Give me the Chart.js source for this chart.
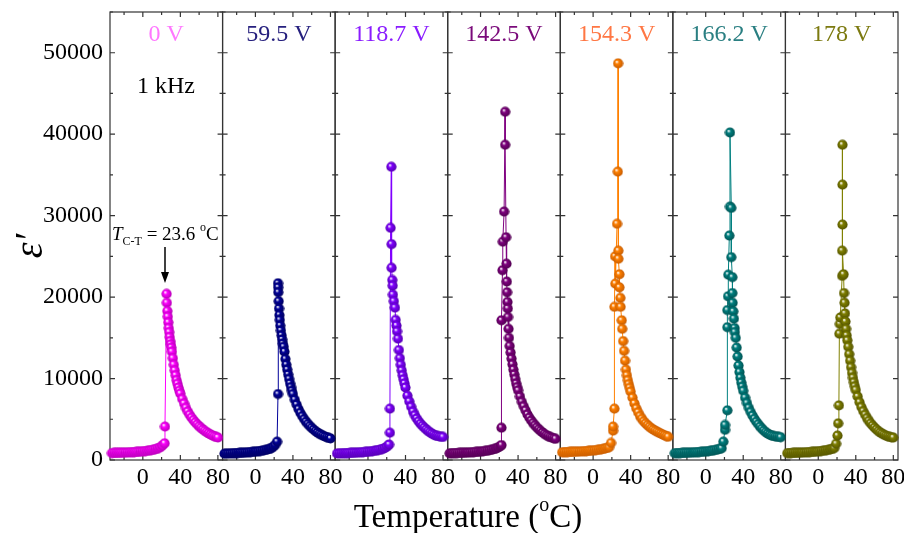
<!DOCTYPE html>
<html lang="en">
<head>
  <meta charset="UTF-8">
  <title>Dielectric constant vs temperature</title>
  <style>
    body {
      margin: 0;
      padding: 0;
      background: #fff;
    }
    #wrap {
      width: 904px;
      height: 533px;
    }
  </style>
</head>
<body>
  <div id="wrap">
    <canvas id="graph" width="904" height="533"></canvas>
  </div>

  <script src="https://cdn.jsdelivr.net/npm/chart.js"></script>
  <script>
    // panel labels and colours
    const voltages = ['0 V', '59.5 V', '118.7 V', '142.5 V', '154.3 V', '166.2 V', '178 V'];
    const colors = ['#ff00ff', '#000099', '#8000ff', '#800080', '#ff8000', '#008080', '#808000'];
    const darkColors = ['#b000b0', '#00005a', '#5000a8', '#4d004d', '#c05800', '#004f4f', '#505000'];
    const labelColors = ['#ff77ff', '#26207e', '#8a1cff', '#7a0a7a', '#ff7744', '#2a7f82', '#7c7a10'];

    const xTickValues = [0, 40, 80];
    const yTickValues = [0, 10000, 20000, 30000, 40000, 50000];

    // temperatures shared by the low-T and high-T parts of every run
    const lowTemps = [-33, -31, -29, -27, -25, -23, -21, -19, -17, -15, -13, -11, -9, -7, -5, -3, -1, 1, 3, 5, 7, 9, 11, 13, 15, 17];
    const tailTemps = [31, 32, 33, 34, 35, 36, 37, 38, 39, 40, 42, 44, 46, 48, 50, 52, 54, 56, 58, 60, 62, 64, 66, 68, 70, 72, 74, 76, 78, 80];

    // 0 V
    const low0 = [850, 860, 868, 876, 885, 893, 902, 912, 922, 933, 945, 958, 972, 988, 1005, 1025, 1047, 1072, 1100, 1132, 1168, 1210, 1258, 1315, 1385, 1470];
    const peakT0 = [19, 21, 23.2, 23.6, 25.3, 25.6, 26.1, 26.6, 27.1, 27.6, 28.1, 28.6, 29.2, 29.8, 30.4];
    const peakE0 = [1600, 1800, 2050, 4100, 20400, 19300, 18300, 17600, 16900, 16200, 15700, 15100, 14600, 14200, 13800];
    const tail0 = [13300, 12500, 11700, 11000, 10400, 9800, 9350, 8900, 8500, 8150, 7500, 6950, 6400, 5950, 5550, 5200, 4900, 4620, 4380, 4150, 3950, 3750, 3580, 3420, 3280, 3150, 3030, 2930, 2840, 2760];

    // 59.5 V
    const low1 = [780, 790, 800, 810, 820, 830, 842, 855, 868, 882, 897, 913, 930, 948, 968, 990, 1014, 1040, 1070, 1104, 1142, 1186, 1236, 1295, 1365, 1450];
    const peakT1 = [19, 21, 23.1, 24.1, 24.1, 24.3, 24.4, 24.8, 25.2, 25.6, 26, 26.5, 27.2, 27.9, 28.6, 29.4, 30.2];
    const peakE1 = [1620, 1850, 2250, 8100, 21700, 21200, 20600, 19500, 18600, 17800, 17200, 16500, 15900, 15300, 14800, 14300, 13900];
    const tail1 = [13300, 12400, 11700, 11100, 10500, 9950, 9400, 8950, 8500, 8100, 7400, 6800, 6250, 5780, 5380, 5020, 4700, 4420, 4170, 3950, 3740, 3550, 3380, 3230, 3100, 2990, 2890, 2800, 2720, 2650];

    // 118.7 V
    const low2 = [800, 808, 816, 825, 834, 843, 853, 864, 875, 887, 900, 914, 929, 945, 963, 983, 1005, 1030, 1058, 1090, 1126, 1168, 1216, 1272, 1340, 1420];
    const peakT2 = [19, 21, 22.5, 23.4, 23.4, 24.1, 24.9, 25.2, 25.2, 25.9, 26.3, 26.6, 27.6, 28.8, 29.5, 30.4];
    const peakE2 = [1540, 1720, 1900, 3350, 6300, 28500, 36000, 26500, 23600, 22100, 21400, 20300, 19500, 18700, 17200, 16500];
    const tail2 = [15800, 14900, 13500, 12500, 11700, 11000, 10400, 9900, 9400, 8900, 7900, 7200, 6550, 5950, 5500, 5100, 4750, 4450, 4200, 3980, 3760, 3570, 3400, 3250, 3110, 3000, 2950, 2900, 2860, 2830];

    // 142.5 V
    const low3 = [820, 828, 836, 845, 854, 863, 873, 884, 895, 907, 920, 934, 949, 965, 983, 1003, 1025, 1050, 1078, 1110, 1146, 1188, 1236, 1292, 1360, 1440];
    const peakT3 = [19, 21, 22.3, 22.3, 22.3, 23.4, 23.7, 25.1, 26.2, 26.2, 27.2, 27.6, 28, 28.3, 28.7, 29, 29.3, 29.8, 30.3];
    const peakE3 = [1560, 1700, 1840, 3960, 17150, 23300, 26800, 30500, 42750, 38700, 27350, 24100, 21900, 20600, 19400, 18600, 17550, 16100, 15000];
    const tail3 = [14000, 13200, 12450, 11750, 11100, 10500, 9950, 9400, 8950, 8550, 7800, 7150, 6600, 6100, 5600, 5200, 4850, 4550, 4270, 4020, 3780, 3570, 3380, 3210, 3060, 2940, 2830, 2740, 2670, 2600];

    // 154.3 V
    const low4 = [950, 958, 966, 975, 984, 993, 1003, 1014, 1025, 1037, 1050, 1064, 1079, 1095, 1113, 1133, 1155, 1180, 1208, 1240, 1276, 1318, 1366, 1422, 1490, 1570];
    const peakT4 = [19.1, 21.3, 21.3, 22.7, 22.7, 23.4, 23.7, 25.5, 26.3, 26.6, 26.9, 26.9, 28, 28, 29, 29.3, 30.5];
    const peakE4 = [2100, 3600, 4100, 6300, 18800, 25000, 21650, 29000, 35400, 48700, 25700, 24700, 22800, 21200, 19900, 18800, 17150];
    const tail4 = [16100, 14600, 13400, 12200, 11100, 10400, 9800, 9300, 8850, 8400, 7650, 6950, 6350, 5850, 5400, 5050, 4750, 4500, 4280, 4080, 3900, 3750, 3610, 3480, 3360, 3250, 3140, 3040, 2940, 2850];

    // 166.2 V
    const low5 = [830, 838, 846, 855, 864, 873, 883, 894, 905, 917, 930, 944, 959, 975, 993, 1013, 1035, 1060, 1088, 1120, 1156, 1198, 1246, 1302, 1370, 1450];
    const peakT5 = [18.8, 20.6, 20.6, 23.1, 23.1, 23.1, 23.8, 24.1, 25.2, 25.9, 25.9, 27.3, 27.3, 28.4, 28.4, 28.7, 29.4, 30.1, 30.8];
    const peakE5 = [2250, 3700, 4300, 6100, 16300, 18400, 20100, 22750, 27550, 31100, 40200, 30950, 24900, 22450, 20500, 19300, 18250, 17350, 16200];
    const tail5 = [15700, 15000, 13800, 12700, 11600, 10800, 10100, 9500, 9000, 8500, 7650, 7000, 6400, 5900, 5450, 5050, 4700, 4400, 4100, 3850, 3620, 3420, 3250, 3120, 3020, 2950, 2900, 2860, 2830, 2800];

    // 178 V
    const low6 = [840, 848, 856, 865, 874, 883, 893, 904, 915, 927, 940, 954, 969, 985, 1003, 1023, 1045, 1070, 1098, 1130, 1166, 1208, 1256, 1312, 1380, 1460];
    const peakT6 = [19, 20.5, 21.2, 22, 22.5, 23, 23.5, 25.5, 25.8, 25.8, 25.8, 25.5, 27, 27.5, 28, 28.5, 29, 29.7, 30.3];
    const peakE6 = [2000, 3000, 4500, 6700, 15500, 16700, 17500, 22600, 28900, 33800, 38700, 25700, 22800, 20500, 19300, 18000, 17000, 16100, 15300];
    const tail6 = [14700, 13900, 13000, 12200, 11400, 10700, 10100, 9550, 9050, 8600, 7800, 7100, 6500, 6000, 5550, 5150, 4800, 4500, 4230, 3980, 3760, 3560, 3390, 3240, 3110, 3000, 2910, 2840, 2790, 2750];

    const lows = [low0, low1, low2, low3, low4, low5, low6];
    const peakTs = [peakT0, peakT1, peakT2, peakT3, peakT4, peakT5, peakT6];
    const peakEs = [peakE0, peakE1, peakE2, peakE3, peakE4, peakE5, peakE6];
    const tails = [tail0, tail1, tail2, tail3, tail4, tail5, tail6];

    const serif = '"Liberation Serif", "Times New Roman", serif';

    // shaded ball marker
    function sphere(color, dark) {
      const c = document.createElement('canvas');
      c.width = 11;
      c.height = 11;
      const g = c.getContext('2d');
      const grad = g.createRadialGradient(4, 3.8, 0.3, 5.5, 5.5, 5.5);
      grad.addColorStop(0, '#ffffff');
      grad.addColorStop(0.3, color);
      grad.addColorStop(1, dark);
      g.fillStyle = grad;
      g.beginPath();
      g.arc(5.5, 5.5, 5.1, 0, Math.PI * 2);
      g.fill();
      return c;
    }

    const datasets = voltages.map((v, k) => {
      const pts = lows[k].map((e, i) => ({ x: lowTemps[i], y: e }))
        .concat(peakTs[k].map((t, i) => ({ x: t, y: peakEs[k][i] })))
        .concat(tails[k].map((e, i) => ({ x: tailTemps[i], y: e })));
      return {
        label: v,
        data: pts,
        xAxisID: 'x' + k,
        yAxisID: 'y',
        showLine: true,
        borderColor: colors[k],
        borderWidth: 1,
        pointStyle: sphere(colors[k], darkColors[k]),
        pointRadius: 5,
        clip: false
      };
    });

    const scales = {
      y: {
        type: 'linear',
        position: 'left',
        min: 0,
        max: 55000,
        afterBuildTicks: s => { s.ticks = yTickValues.map(v => ({ value: v })); },
        afterFit: s => { s.width = 110; s.paddingTop = 0; s.paddingBottom = 0; },
        ticks: { font: { family: serif, size: 24 }, color: '#000', padding: 7, callback: v => String(v) },
        grid: { display: false, drawTicks: false },
        border: { display: false }
      }
    };
    voltages.forEach((v, k) => {
      scales['x' + k] = {
        type: 'linear',
        position: 'bottom',
        stack: 'temp',
        stackWeight: 1,
        min: -35,
        max: 85,
        afterBuildTicks: s => { s.ticks = xTickValues.map(t => ({ value: t })); },
        afterFit: s => { s.height = 73; s.paddingLeft = 0; s.paddingRight = 0; },
        ticks: { font: { family: serif, size: 24 }, color: '#000', padding: 3, maxRotation: 0, autoSkip: false },
        grid: { display: false, drawTicks: false },
        border: { display: false }
      };
    });

    // frames, inward ticks and the texts
    const panelDecor = {
      id: 'panelDecor',
      beforeDatasetsDraw(chart) {
        const { ctx, chartArea: a, scales: sc } = chart;
        ctx.save();
        ctx.strokeStyle = '#333';
        ctx.lineWidth = 1.2;
        for (let k = 0; k < voltages.length; k++) {
          const xs = sc['x' + k];
          ctx.strokeRect(xs.left, a.top, xs.right - xs.left, a.bottom - a.top);
          ctx.beginPath();
          for (let v = 0; v <= 55000; v += 5000) {
            const y = sc.y.getPixelForValue(v);
            const len = v % 10000 === 0 ? 5 : 3;
            ctx.moveTo(xs.left, y); ctx.lineTo(xs.left + len, y);
            ctx.moveTo(xs.right, y); ctx.lineTo(xs.right - len, y);
          }
          for (let t = -20; t <= 80; t += 20) {
            const x = xs.getPixelForValue(t);
            const len = t % 40 === 0 ? 5 : 3;
            ctx.moveTo(x, a.bottom); ctx.lineTo(x, a.bottom - len);
            ctx.moveTo(x, a.top); ctx.lineTo(x, a.top + len);
          }
          ctx.stroke();
        }
        ctx.restore();
      },
      afterDraw(chart) {
        const { ctx, scales: sc } = chart;
        ctx.save();
        ctx.textBaseline = 'alphabetic';

        // voltage labels
        ctx.font = '24px ' + serif;
        ctx.textAlign = 'center';
        voltages.forEach((v, k) => {
          const xs = sc['x' + k];
          ctx.fillStyle = labelColors[k];
          ctx.fillText(v, (xs.left + xs.right) / 2, 41);
        });

        ctx.fillStyle = '#000';
        ctx.fillText('1 kHz', 166, 93);

        // T_C-T annotation
        ctx.textAlign = 'left';
        let x = 112;
        ctx.font = 'italic 19px ' + serif;
        ctx.fillText('T', x, 240);
        x += ctx.measureText('T').width;
        ctx.font = '12px ' + serif;
        ctx.fillText('C-T', x, 245);
        x += ctx.measureText('C-T').width;
        ctx.font = '19px ' + serif;
        ctx.fillText(' = 23.6 ', x, 240);
        x += ctx.measureText(' = 23.6 ').width;
        ctx.font = '12px ' + serif;
        ctx.fillText('o', x, 231);
        x += ctx.measureText('o').width;
        ctx.font = '19px ' + serif;
        ctx.fillText('C', x, 240);

        // arrow
        const ax = 165;
        ctx.strokeStyle = '#000';
        ctx.lineWidth = 1.5;
        ctx.beginPath();
        ctx.moveTo(ax, 247);
        ctx.lineTo(ax, 276);
        ctx.stroke();
        ctx.beginPath();
        ctx.moveTo(ax - 4, 272);
        ctx.lineTo(ax + 4, 272);
        ctx.lineTo(ax, 283);
        ctx.closePath();
        ctx.fill();

        // x title
        const big = '33px ' + serif;
        const small = '20px ' + serif;
        ctx.font = big;
        const w1 = ctx.measureText('Temperature (').width;
        const w3 = ctx.measureText('C)').width;
        ctx.font = small;
        const w2 = ctx.measureText('o').width;
        let tx = 468 - (w1 + w2 + w3) / 2;
        ctx.font = big;
        ctx.fillText('Temperature (', tx, 527);
        tx += w1;
        ctx.font = small;
        ctx.fillText('o', tx, 511);
        tx += w2;
        ctx.font = big;
        ctx.fillText('C)', tx, 527);

        // y title
        ctx.save();
        ctx.translate(42, 246);
        ctx.rotate(-Math.PI / 2);
        ctx.textAlign = 'center';
        ctx.font = 'italic 40px ' + serif;
        ctx.fillText('\u03b5\u2032', 0, 0);
        ctx.restore();

        ctx.restore();
      }
    };

    new Chart(document.getElementById('graph'), {
      type: 'scatter',
      data: { datasets },
      options: {
        responsive: false,
        animation: false,
        layout: { padding: { top: 12, right: 6, bottom: 0, left: 0 } },
        plugins: {
          legend: { display: false },
          tooltip: { enabled: false }
        },
        scales
      },
      plugins: [panelDecor]
    });
  </script>
</body>
</html>
